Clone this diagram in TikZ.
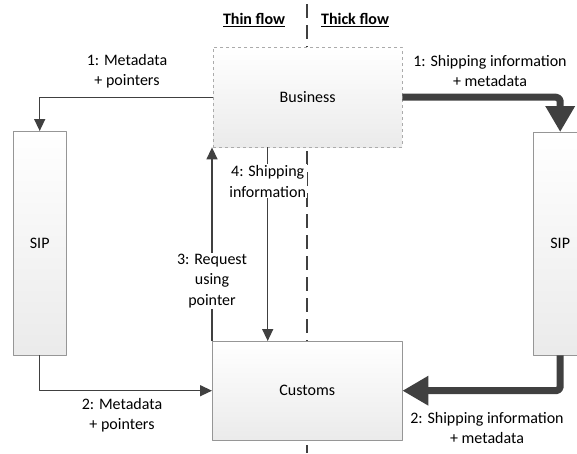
\documentclass[tikz,border=0pt]{standalone}
\usepackage{fontspec}
\setmainfont{Carlito}
\usetikzlibrary{arrows.meta,positioning}
\definecolor{linegray}{RGB}{64,64,64}
\definecolor{boxline}{RGB}{150,150,150}
\begin{document}
\begin{tikzpicture}[x=1pt,y=-1pt,line join=round,
    font=\fontsize{16}{20.5}\selectfont]
    \tikzset{
        box/.style={draw=boxline,top color=white,bottom color=black!8,inner sep=0pt,anchor=north west},
        thinarrow/.style={-{Triangle[length=12pt,width=11pt]},draw=linegray,line width=1.4pt},
        thickarrow/.style={-{Triangle[length=26pt,width=28pt]},draw=linegray,line width=7pt,rounded corners=4pt},
        lbl/.style={align=center,inner sep=1pt},
        flow/.style={font=\fontsize{16}{20.5}\selectfont\bfseries}
    }
    \useasboundingbox (0,0) rectangle (577,453);
    \clip (0,0) rectangle (577,453);
    % separator between the two flows
    \draw[linegray,line width=1.5pt,dash pattern=on 14pt off 7pt] (307,4) -- (307,453);
    \node[flow] (thin) at (254,20) {\underline{Thin flow}};
    \node[flow] (thick) at (355,20) {\underline{Thick flow}};
    % boxes
    \node[box,draw=boxline!80,dashed,minimum width=189pt,minimum height=100pt] (business) at (213,47) {Business};
    \node[box,minimum width=190pt,minimum height=99pt] (customs) at (212,341) {Customs};
    \node[box,minimum width=53pt,minimum height=224pt] (sipL) at (13,131) {SIP};
    \node[box,minimum width=54pt,minimum height=223pt] (sipR) at (533,132) {SIP};
    % thin flow
    \draw[thinarrow] (business.west) -| (sipL.north);
    \node[lbl] (m1) at (127,71) {1: Metadata\\+ pointers};
    \draw[thinarrow] (sipL.south) |- (customs.west);
    \node[lbl] (m2) at (122,415) {2: Metadata\\+ pointers};
    \draw[thinarrow] (customs.north west) -- (customs.north west |- business.south)
        node[lbl,fill=white,pos=0.31] (m3) {3: Request\\using\\pointer};
    \draw[thinarrow] (business.south) ++(-40,0) coordinate (a4) -- (a4 |- customs.north)
        node[lbl,fill=white,pos=0.175] (m4) {4: Shipping\\information};
    % thick flow
    \draw[thickarrow] (business.east) -| (sipR.north);
    \node[lbl] (s1) at (490,71) {1: Shipping information\\+ metadata};
    \draw[thickarrow] (sipR.south) |- (customs.east);
    \node[lbl] (s2) at (487,428) {2: Shipping information\\+ metadata};
\end{tikzpicture}
\end{document}
